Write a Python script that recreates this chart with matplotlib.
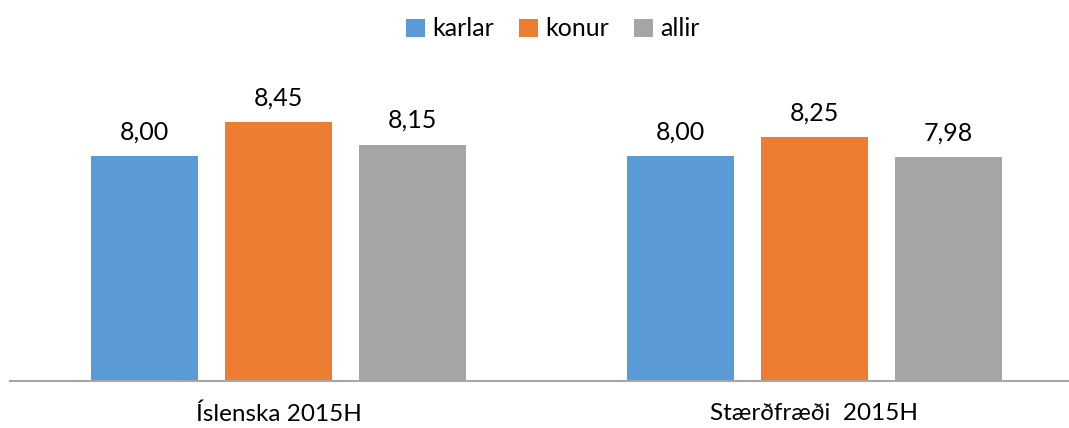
import matplotlib
matplotlib.use("Agg")
import matplotlib.pyplot as plt
import numpy as np

categories = ["Íslenska 2015H", "Stærðfræði  2015H"]
series = ["karlar", "konur", "allir"]
karlar = [8.00, 8.00]
konur = [8.45, 8.25]
allir = [8.15, 7.98]
colors = ["#5B9BD5", "#ED7D31", "#A5A5A5"]

plt.rcParams['font.family'] = ['Lato', 'DejaVu Sans']

W, H = 1069, 428
fig = plt.figure(figsize=(W / 100, H / 100), dpi=100)
ax = fig.add_axes([10 / W, 47 / H, (1069 - 10) / W, 300 / H])

x = np.arange(len(categories))
width = 0.2
offsets = [-0.25, 0.0, 0.25]
handles = []
for vals, off, col, name in zip([karlar, konur, allir], offsets, colors, series):
    b = ax.bar(x + off, np.array(vals) - 5, width, bottom=5, color=col, label=name)
    handles.append(b)
    for xi, v in zip(x + off, vals):
        ax.text(xi, v + 0.17, f"{v:.2f}".replace(".", ","), ha="center", va="bottom",
                fontsize=18, color="#000000")

ax.set_ylim(5, 9)
ax.set_xlim(-0.501, 1.475)
ax.set_yticks([])
ax.set_xticks(x)
ax.set_xticklabels(categories, fontsize=17.5)
ax.tick_params(axis="x", length=0, pad=16)
for s in ["top", "right", "left"]:
    ax.spines[s].set_visible(False)
ax.spines["bottom"].set_color("#A6A6A6")
ax.spines["bottom"].set_linewidth(1.5)

fig.legend(handles=handles, labels=series, loc="center", bbox_to_anchor=(553 / W, 1 - 29 / H),
           ncol=3, frameon=False, fontsize=18, handlelength=0.75, handleheight=0.75,
           handletextpad=0.3, columnspacing=1.0, borderaxespad=0)

fig.savefig("out.png", dpi=100)
